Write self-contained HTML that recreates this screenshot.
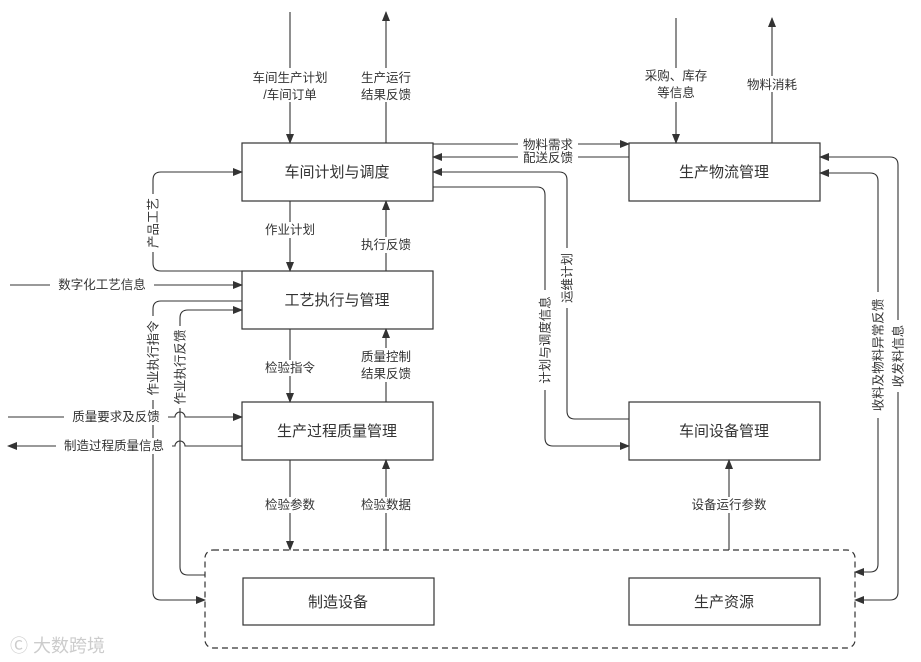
<!DOCTYPE html>
<html><head><meta charset="utf-8"><style>
html,body{margin:0;padding:0;background:#fff;}
svg{display:block;}
text{font-family:"Liberation Sans","Noto Sans CJK SC",sans-serif;fill:#333;}
.l{font-size:12.5px;}
.b{font-size:15px;}
</style></head><body>
<svg width="921" height="662" viewBox="0 0 921 662" xmlns="http://www.w3.org/2000/svg">
<defs>
<marker id="a" markerWidth="10" markerHeight="8" refX="9" refY="4" orient="auto-start-reverse" markerUnits="userSpaceOnUse">
<path d="M0,0 L10,4 L0,8 z" fill="#333"/></marker>
</defs>
<g fill="none" stroke="#333" stroke-width="1.2">
<rect x="242" y="143" width="191" height="58"/>
<rect x="242" y="271" width="191" height="58"/>
<rect x="242" y="402" width="191" height="58"/>
<rect x="629" y="143" width="191" height="58"/>
<rect x="629" y="402" width="191" height="58"/>
<rect x="243" y="578" width="191" height="47"/>
<rect x="629" y="578" width="191" height="47"/>
<rect x="205" y="550" width="650" height="98" rx="8" stroke-dasharray="6,4"/>
</g>
<g fill="none" stroke="#333" stroke-width="1.1" marker-end="url(#a)">
<path d="M290 12 V143"/>
<path d="M386 143 V12"/>
<path d="M676 18 V143"/>
<path d="M772 143 V18"/>
<path d="M433 144 H629"/>
<path d="M629 157 H433"/>
<path d="M629 419 H575 Q567 419 567 411 V180 Q567 172 559 172 H433"/>
<path d="M433 187 H537 Q545 187 545 195 V438 Q545 446 553 446 H629"/>
<path d="M855 600 H890 Q898 600 898 592 V165 Q898 157 890 157 H820" marker-start="url(#a)"/>
<path d="M820 173 H870 Q878 173 878 181 V564 Q878 572 870 572 H855" marker-start="url(#a)"/>
<path d="M290 201 V271"/>
<path d="M386 271 V201"/>
<path d="M242 271 H161 Q153 271 153 263 V180 Q153 172 161 172 H242"/>
<path d="M10 285 H242"/>
<path d="M242 301 H161 Q153 301 153 309 V592 Q153 600 161 600 H205"/>
<path d="M205 575 H188 Q180 575 180 567 V318 Q180 310 188 310 H242"/>
<path d="M8 417 H175 A5 5 0 0 1 185 417 H242"/>
<path d="M242 446 H185 A5 5 0 0 0 175 446 H8"/>
<path d="M290 329 V402"/>
<path d="M386 402 V329"/>
<path d="M290 460 V550"/>
<path d="M386 550 V460"/>
<path d="M729 550 V460"/>
</g>
<g class="b" text-anchor="middle">
<text x="337" y="177">车间计划与调度</text>
<text x="337" y="305">工艺执行与管理</text>
<text x="337" y="436">生产过程质量管理</text>
<text x="724" y="177">生产物流管理</text>
<text x="724" y="436">车间设备管理</text>
<text x="338" y="607">制造设备</text>
<text x="724" y="607">生产资源</text>
</g>
<g class="l" text-anchor="middle">
<g fill="#fff" stroke="none">
<rect x="250" y="68" width="80" height="34"/><rect x="356" y="68" width="60" height="34"/>
<rect x="640" y="68" width="72" height="34"/><rect x="742" y="76" width="60" height="16"/>
<rect x="518" y="137" width="60" height="28"/>
<rect x="262" y="222" width="56" height="16"/><rect x="356" y="237" width="60" height="16"/>
<rect x="50" y="277" width="104" height="16"/>
<rect x="262" y="360" width="56" height="16"/><rect x="356" y="348" width="60" height="34"/>
<rect x="64" y="409" width="104" height="16"/><rect x="56" y="438" width="116" height="16"/>
<rect x="262" y="497" width="56" height="16"/><rect x="356" y="497" width="60" height="16"/>
<rect x="686" y="497" width="86" height="16"/>
<rect x="145" y="194" width="16" height="58"/><rect x="145" y="316" width="16" height="84"/>
<rect x="172" y="326" width="16" height="82"/><rect x="537" y="290" width="16" height="100"/>
<rect x="559" y="248" width="16" height="60"/><rect x="870" y="292" width="16" height="126"/>
<rect x="890" y="320" width="16" height="72"/>
</g>
<text x="290" y="82">车间生产计划</text><text x="290" y="99">/车间订单</text>
<text x="386" y="82">生产运行</text><text x="386" y="99">结果反馈</text>
<text x="676" y="80">采购、库存</text><text x="676" y="97">等信息</text>
<text x="772" y="89">物料消耗</text>
<text x="548" y="149">物料需求</text><text x="548" y="162">配送反馈</text>
<text x="290" y="234">作业计划</text><text x="386" y="249">执行反馈</text>
<text x="102" y="289">数字化工艺信息</text>
<text x="290" y="372">检验指令</text>
<text x="386" y="361">质量控制</text><text x="386" y="378">结果反馈</text>
<text x="116" y="421">质量要求及反馈</text>
<text x="114" y="450">制造过程质量信息</text>
<text x="290" y="509">检验参数</text><text x="386" y="509">检验数据</text>
<text x="729" y="509">设备运行参数</text>
<text transform="translate(157.5,223) rotate(-90)">产品工艺</text>
<text transform="translate(157.5,358) rotate(-90)">作业执行指令</text>
<text transform="translate(184.5,367) rotate(-90)">作业执行反馈</text>
<text transform="translate(549.5,340) rotate(-90)">计划与调度信息</text>
<text transform="translate(571.5,278) rotate(-90)">运维计划</text>
<text transform="translate(882.5,355) rotate(-90)">收料及物料异常反馈</text>
<text transform="translate(902.5,356) rotate(-90)">收发料信息</text>
</g>
<text x="10" y="652" style="font-size:18px;fill:#ccc;">Ⓒ 大数跨境</text>
</svg>
</body></html>
